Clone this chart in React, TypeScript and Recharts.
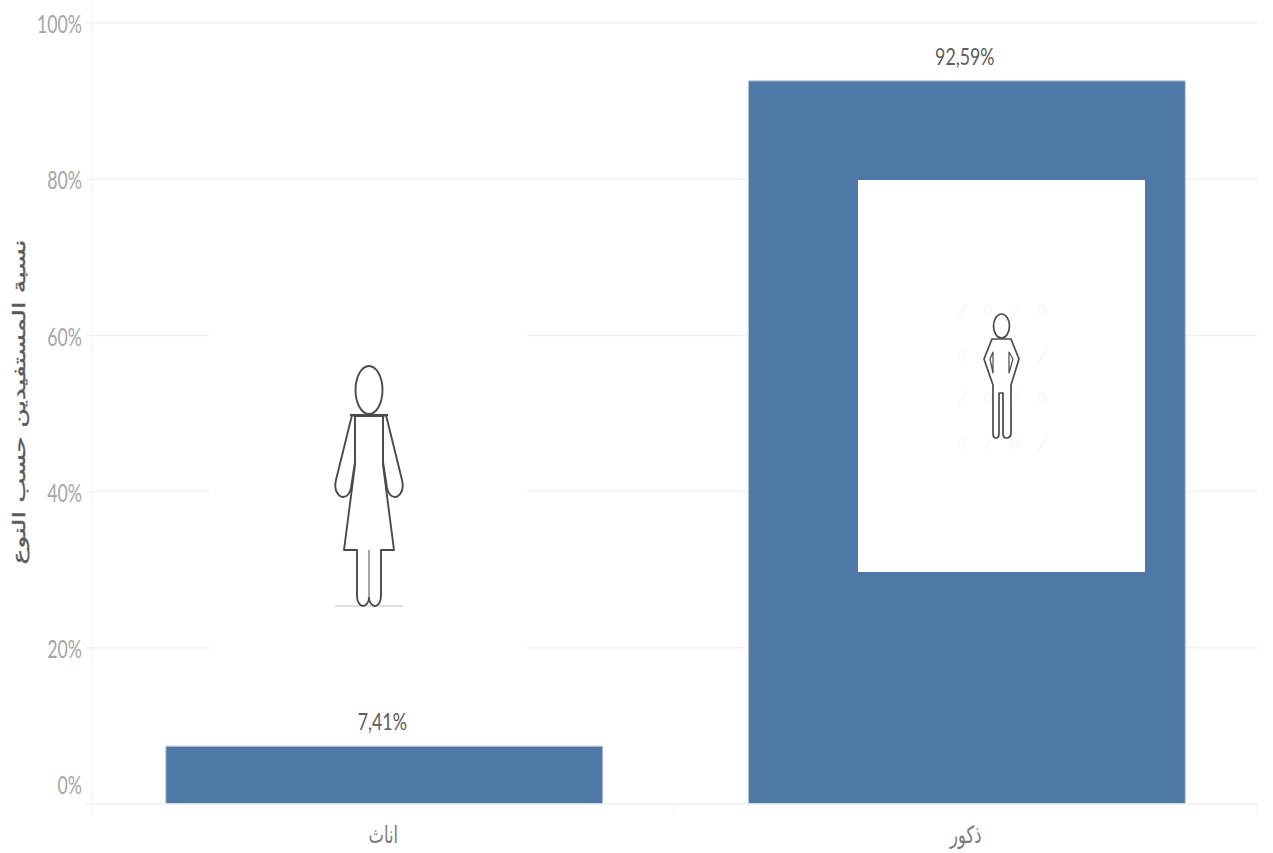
import React from 'react'
import { Bar, BarChart, CartesianGrid, LabelList, XAxis, YAxis } from 'recharts'

const categories = ['اناث', 'ذكور']
const shares = [7.41, 92.59]
const yTicks = [0, 20, 40, 60, 80, 100]
const yTitle = 'نسبة المستفيدين حسب النوع'

const chartData = categories.map((name, i) => ({ name, share: shares[i] }))

const LATIN = 'Lato, sans-serif'
const ARABIC = '"DejaVu Sans", sans-serif'

function YTick({ x, y, payload }: any) {
  // tableau pushes the bottom label up so it stays inside the pane
  const shift = payload.value === 0 ? -19 : 1
  return (
    <text
      transform={`translate(${x - 2},${y + shift}) scale(0.71,1)`}
      textAnchor="end"
      dominantBaseline="central"
      fontFamily={LATIN}
      fontSize={25}
      fill="#a6a6a6"
    >
      {payload.value}%
    </text>
  )
}

function XTick({ x, y, payload }: any) {
  return (
    <text
      transform={`translate(${x - 1},${y + 23}) scale(0.68,1)`}
      textAnchor="middle"
      dominantBaseline="central"
      fontFamily={ARABIC}
      fontSize={24}
      fill="#7a7a7a"
    >
      {payload.value}
    </text>
  )
}

function ShareLabel({ x, y, width, value }: any) {
  return (
    <text
      transform={`translate(${x + width / 2 - 2},${y - 26}) scale(0.74,1)`}
      textAnchor="middle"
      dominantBaseline="central"
      fontFamily={LATIN}
      fontSize={24}
      fill="#5c5c5c"
    >
      {String(value).replace('.', ',')}%
    </text>
  )
}

function YTitle() {
  return (
    <text
      transform="translate(19,402) rotate(-90) scale(1.57,1)"
      textAnchor="middle"
      dominantBaseline="central"
      fontFamily={ARABIC}
      fontSize={17}
      stroke="#5a5a5a"
      strokeWidth={0.35}
      fill="#5a5a5a"
    >
      {yTitle}
    </text>
  )
}

function AxisFrame() {
  return (
    <g stroke="#f2f2f2" strokeWidth={1.2}>
      <line x1={92} y1={0} x2={92} y2={815} />
      <line x1={674} y1={804} x2={674} y2={815} />
      <line x1={1257} y1={804} x2={1257} y2={815} />
    </g>
  )
}

// pasted pictures sit on top of the chart, same as in the workbook
function FemalePanel() {
  return (
    <g>
      <rect x={210} y={310} width={317} height={360} fill="#ffffff" />
      <g fill="#ffffff" stroke="#4a4a4a" strokeWidth={1.9} strokeLinejoin="round">
        <line x1={335} y1={606} x2={403} y2={606} stroke="#dddddd" strokeWidth={2} />
        <path d="M352 415 L336 480 C333 492 340 497 343 497 C347 497 350 493 351 488 L355 462 L355 416 Z" />
        <path d="M386 415 L402 480 C405 492 398 497 395 497 C391 497 388 493 387 488 L383 462 L383 416 Z" />
        <path d="M355 416 L383 416 L383 465 L394 550 L381 550 L381 596 C381 602 378 606 375 606 C372 606 369 602 369 598 C369 602 366 606 363 606 C360 606 357 602 357 596 L357 550 L344 550 L355 465 Z" />
        <line x1={369} y1={550} x2={369} y2={598} strokeWidth={1} />
        <line x1={350} y1={415} x2={388} y2={415} strokeWidth={2.2} />
        <ellipse cx={369} cy={390} rx={13.5} ry={24} />
      </g>
    </g>
  )
}

function MalePanel() {
  return (
    <g>
      <rect x={858} y={180} width={287} height={392} fill="#ffffff" />
      <g stroke="#f8f8f8" strokeWidth={2} fill="none" strokeLinecap="round">
        <line x1={958} y1={319} x2={967} y2={304} />
        <ellipse cx={988} cy={310} rx={3} ry={5} />
        <line x1={1011} y1={319} x2={1020} y2={304} />
        <ellipse cx={1042} cy={310} rx={3} ry={5} />
        <ellipse cx={962} cy={355} rx={3} ry={5} />
        <line x1={1038} y1={363} x2={1047} y2={348} />
        <line x1={958} y1={406} x2={967} y2={391} />
        <ellipse cx={988} cy={398} rx={3} ry={5} />
        <line x1={1011} y1={406} x2={1020} y2={391} />
        <ellipse cx={1042} cy={398} rx={3} ry={5} />
        <ellipse cx={962} cy={443} rx={3} ry={5} />
        <line x1={984} y1={451} x2={993} y2={436} />
        <ellipse cx={1015} cy={443} rx={3} ry={5} />
        <line x1={1038} y1={451} x2={1047} y2={436} />
      </g>
      <g fill="#ffffff" stroke="#4a4a4a" strokeWidth={1.7} strokeLinejoin="round">
        <path d="M992 339 L1011 339 L1019 359 L1011 385 L1011 433 C1011 437 1008 438 1006 438 C1004 438 1003 436 1003 433 L1003 393 L999 393 L999 433 C999 436 998 438 996 438 C994 438 993 436 993 433 L993 385 L984 359 Z" />
        <path d="M993 352 L990 359 L993 373 Z" strokeWidth={1.2} />
        <path d="M1009 352 L1013 359 L1009 373 Z" strokeWidth={1.2} />
        <ellipse cx={1001.5} cy={326} rx={8} ry={12} />
      </g>
    </g>
  )
}

export default function App() {
  return (
    <div style={{ position: 'absolute', left: 0, top: 0, width: 1273, height: 853, background: '#fff' }}>
      <BarChart
        width={1273}
        height={853}
        data={chartData}
        margin={{ top: 23, right: 15, bottom: 0, left: 0 }}
        barCategoryGap="12.5%"
      >
        <CartesianGrid vertical={false} stroke="#f2f2f2" strokeWidth={1.5} />
        <XAxis
          dataKey="name"
          height={49}
          axisLine={{ stroke: '#f2f2f2', strokeWidth: 1.5 }}
          tickLine={false}
          tick={<XTick />}
          interval={0}
        />
        <YAxis
          width={93}
          domain={[0, 100]}
          ticks={yTicks}
          axisLine={false}
          tickLine={{ stroke: '#f2f2f2', strokeWidth: 1.5 }}
          tickSize={7}
          tick={<YTick />}
          interval={0}
          label={<YTitle />}
        />
        <AxisFrame />
        <Bar dataKey="share" fill="#4e79a7" stroke="#c6ccd3" strokeWidth={1} isAnimationActive={false}>
          <LabelList dataKey="share" content={<ShareLabel />} />
        </Bar>
      </BarChart>
      <svg width={1273} height={853} style={{ position: 'absolute', left: 0, top: 0, pointerEvents: 'none' }}>
        <FemalePanel />
        <MalePanel />
      </svg>
    </div>
  )
}
